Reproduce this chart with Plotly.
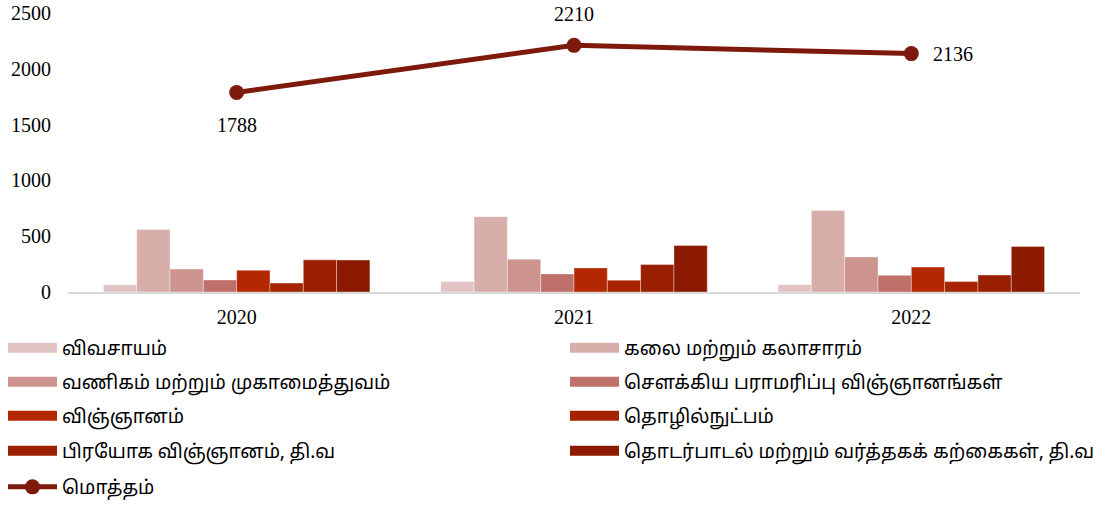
import plotly.graph_objects as go

years = ["2020", "2021", "2022"]

fields = [
    "விவசாயம்",
    "கலை மற்றும் கலாசாரம்",
    "வணிகம் மற்றும் முகாமைத்துவம்",
    "சௌக்கிய பராமரிப்பு விஞ்ஞானங்கள்",
    "விஞ்ஞானம்",
    "தொழில்நுட்பம்",
    "பிரயோக விஞ்ஞானம், தி.வ",
    "தொடர்பாடல் மற்றும் வர்த்தகக் கற்கைகள், தி.வ",
]

agriculture = [65, 95, 66]
arts_culture = [560, 675, 731]
commerce_mgmt = [205, 293, 314]
health_sci = [108, 162, 149]
science = [195, 216, 223]
technology = [80, 106, 93]
applied_sci = [288, 246, 152]
comm_business = [287, 417, 408]

total = [1788, 2210, 2136]
total_name = "மொத்தம்"

colors = ["#E3C4C4", "#D8AEAB", "#CC938F", "#C0706A",
          "#B32800", "#A62300", "#9A1F00", "#8B1A00"]
line_color = "#7E1A0C"

series = [agriculture, arts_culture, commerce_mgmt, health_sci,
          science, technology, applied_sci, comm_business]

tamil_font = "Noto Sans Tamil, Lohit Tamil, Noto Serif Tamil, FreeSans, sans-serif"

# one small legend per entry: two columns, five rows
legend_names = ["legend" if i == 0 else f"legend{i + 1}" for i in range(9)]
row_centers = [348, 382, 416, 451, 487]

fig = go.Figure()

for name, vals, col in zip(fields, series, colors):
    fig.add_trace(go.Bar(
        x=years, y=vals, name=name,
        marker=dict(color=col, line=dict(color="rgba(255,255,255,0.6)", width=0.6)),
        showlegend=False,
    ))

# wide legend swatches like the original
for i, (name, col) in enumerate(zip(fields, colors)):
    fig.add_trace(go.Scatter(
        x=[None], y=[None], mode="lines", name=name,
        line=dict(color=col, width=10),
        legend=legend_names[i],
    ))

fig.add_trace(go.Scatter(
    x=years, y=total, name=total_name,
    mode="lines+markers",
    line=dict(color=line_color, width=5),
    marker=dict(color=line_color, size=15),
    cliponaxis=False,
    legend=legend_names[8],
))

# value labels for the total line (category index positions)
shifts = [(0, -33), (0, 31), (42, 0)]
for i, (v, (dx, dy)) in enumerate(zip(total, shifts)):
    fig.add_annotation(x=i, y=v, text=str(v), showarrow=False,
                       xshift=dx, yshift=dy,
                       font=dict(family="Liberation Serif", size=20, color="black"))

legend_layout = {}
for i, lname in enumerate(legend_names):
    row, col = divmod(i, 2)
    legend_layout[lname] = dict(
        xref="container", yref="container",
        x=3 / 1115 if col == 0 else 565 / 1115,
        y=1 - row_centers[row] / 505,
        xanchor="left", yanchor="middle",
        itemwidth=49,
        font=dict(size=19, family=tamil_font, color="black"),
        bgcolor="rgba(0,0,0,0)",
    )

fig.update_layout(
    width=1115, height=505,
    template="plotly_white",
    barmode="group",
    bargap=0.21,
    bargroupgap=0,
    font=dict(family="Liberation Serif", size=20, color="black"),
    margin=dict(l=68, r=35, t=13, b=213, autoexpand=False),
    xaxis=dict(type="category", showgrid=False, showline=True, linecolor="#D9D9D9",
               linewidth=1.5, ticks="", tickfont=dict(size=20), ticklabelstandoff=6),
    yaxis=dict(range=[0, 2500], dtick=500, showgrid=False, zeroline=False,
               showline=False, tickfont=dict(size=20), ticklabelstandoff=16),
    **legend_layout,
)

fig.write_html("out.html", config={"displayModeBar": False},
               post_script="document.body.style.margin = '0';")
